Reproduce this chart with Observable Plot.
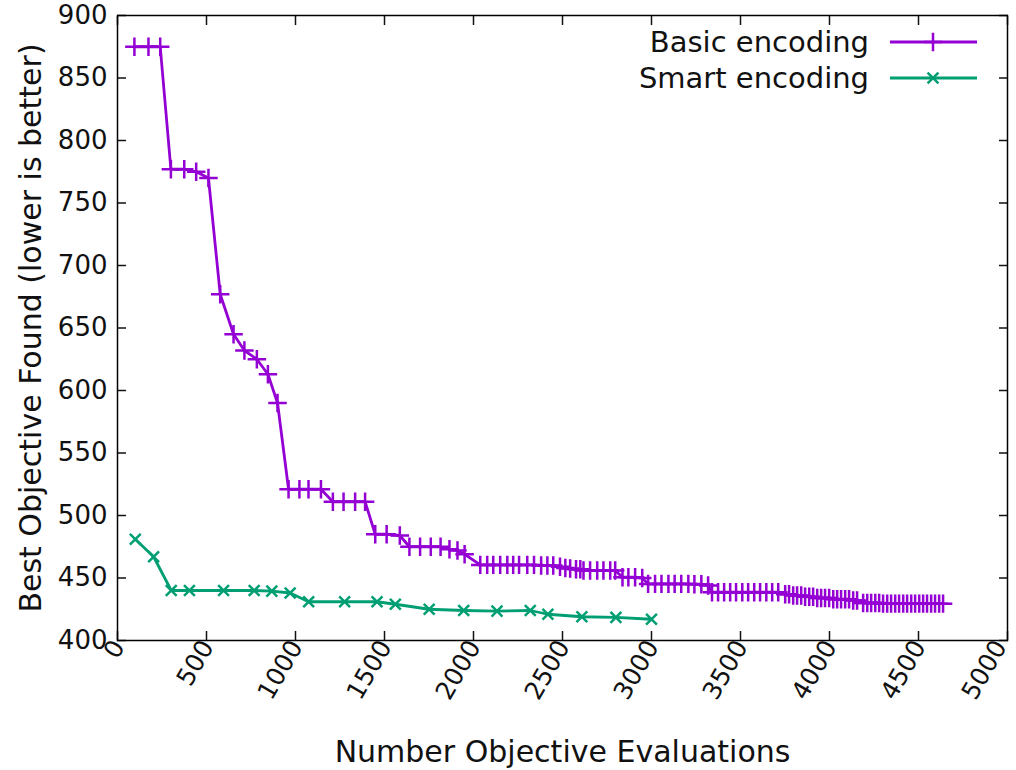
<!DOCTYPE html>
<html>
<head>
<meta charset="utf-8">
<script src="https://cdn.jsdelivr.net/npm/d3@7"></script>
<script src="https://cdn.jsdelivr.net/npm/@observablehq/plot@0.6"></script>
<style>
  html, body { margin: 0; padding: 0; background: #fff; }
  #chart { position: relative; width: 1016px; height: 770px; }
  #legend { position: absolute; left: 0; top: 0; }
</style>
</head>
<body>
<div id="chart"></div>
<script>
// ---- data ----
const seriesNames = ["Basic encoding", "Smart encoding"];
const seriesColors = ["#9400d3", "#009e73"];
const seriesSymbols = ["plus", "times"];

const basicX = [95,174,240,300,375,442,511,577,652,713,783,845,899,961,1022,1073,1143,1210,1270,1335,1391,1448,1512,1586,1640,1700,1760,1815,1865,1910,1950,
  2038,2077,2111,2150,2190,2223,2256,2302,2340,2380,2415,2448,2486,2516,2543,2576,2600,2618,2655,2695,2730,2768,2796,
  2837,2870,2908,2948,2981,3020,3056,3095,3130,3167,3207,3241,3280,3318,
  3340,3374,3408,3442,3475,3510,3543,3577,3610,3645,3678,3712,
  3751,3773,3796,3818,3841,3863,3886,3908,3931,3953,3975,3998,4021,4043,4065,4088,4110,4133,4155,
  4189,4212,4234,4257,4279,4301,4324,4346,4369,4391,4414,4436,4459,4481,4504,4526,4548,4571,4593,4616,4638];
const basicY = [875,875,875,777,777,775,770,677,645,632,625,613,590,521,521,521,521,511,511,511,511,485,485,484,475,475,475,475,473,472,469,
  460.5,460.5,460.5,460.5,460.5,460.5,460.5,460.5,460.5,460,460,460,459,458,457.6,457,457,456,456,456,456,456,456,
  450.6,450.6,450.6,450,445.3,445.3,445.3,445.3,445.3,445.3,445.3,445,445,444,
  438.6,438.6,438.6,438.6,438.6,438.6,438.6,438.6,438.6,438.6,438.6,438.6,
  437,437,436,436,436,435,435,435,434,434,434,434,433,433,433,433,433,432,432,
  430,430,430,430,430,429.5,429.5,429.5,429.5,429.5,429.5,429.5,429.5,429.5,429.5,429.5,429.5,429.5,429.5,429.5,429.5];

const smartX = [100,203,302,404,596,768,867,970,1074,1276,1458,1561,1751,1945,2132,2319,2418,2609,2800,3000];
const smartY = [481,467,440,440,440,440,439.5,438,431,431,431,429,425,424,423.5,424,421,419,418.5,417];

const xTicks = [0,500,1000,1500,2000,2500,3000,3500,4000,4500,5000];
const yTicks = [400,450,500,550,600,650,700,750,800,850,900];
const xLabel = "Number Objective Evaluations";
const yLabel = "Best Objective Found (lower is better)";

// ---- tables ----
const basic = basicX.map((x, i) => ({x, y: basicY[i]}));
const smart = smartX.map((x, i) => ({x, y: smartY[i]}));
const seriesData = [basic, smart];

const W = 1016, H = 770;
const fontFamily = "DejaVu Sans";
const symR = [6, 5];

const marks = [];
seriesData.forEach((data, i) => {
  marks.push(Plot.line(data, {x: "x", y: "y", stroke: seriesColors[i], strokeWidth: 2.8}));
});
seriesData.forEach((data, i) => {
  marks.push(Plot.dot(data, {x: "x", y: "y", stroke: seriesColors[i], symbol: seriesSymbols[i], r: symR[i], strokeWidth: 2.5}));
});

const fmt = d3.format("d");
const blank = () => "";
const xLabelOpts = {anchor: "bottom", tickSize: 0, tickPadding: 2, tickRotate: -60, tickFormat: fmt, fontSize: 25, label: null};

const plot = Plot.plot({
  width: W,
  height: H,
  marginLeft: 117,
  marginRight: 9,
  marginTop: 15,
  marginBottom: 130,
  style: {fontFamily, fontSize: "26px", color: "#111", background: "#fff"},
  x: {domain: [0, 5000]},
  y: {domain: [400, 900]},
  marks: [
    ...marks,
    // inward ticks on all four sides
    Plot.axisX({ticks: xTicks, anchor: "bottom", tickSize: -9, tickFormat: blank, label: null, strokeWidth: 1.5}),
    Plot.axisX({ticks: xTicks, anchor: "top", tickSize: -9, tickFormat: blank, label: null, strokeWidth: 1.5}),
    Plot.axisY({ticks: yTicks, anchor: "left", tickSize: -9, tickPadding: 19, tickFormat: fmt, label: null, strokeWidth: 1.5}),
    Plot.axisY({ticks: yTicks, anchor: "right", tickSize: -9, tickFormat: blank, label: null, strokeWidth: 1.5}),
    // rotated x tick labels (last one nudged left so it stays inside the page)
    Plot.axisX({...xLabelOpts, ticks: xTicks.slice(0, -1), dx: 1}),
    Plot.axisX({...xLabelOpts, ticks: xTicks.slice(-1), dx: -7}),
    Plot.frame({stroke: "#000", strokeWidth: 1.5}),
    Plot.text([xLabel], {text: d => d, frameAnchor: "bottom", textAnchor: "middle", dy: 112, lineAnchor: "middle", fontSize: 30}),
    Plot.text([yLabel], {text: d => d, frameAnchor: "left", textAnchor: "middle", dx: -86, rotate: -90, lineAnchor: "middle", fontSize: 30})
  ]
});

const chart = document.getElementById("chart");
chart.appendChild(plot);

// ---- legend (overlay, top-right inside the frame) ----
const leg = d3.select(chart).append("svg")
  .attr("id", "legend")
  .attr("width", W).attr("height", 110)
  .style("font-family", fontFamily);
const rowsY = [42, 78];
seriesNames.forEach((name, i) => {
  const g = leg.append("g");
  g.append("text").attr("x", 869).attr("y", rowsY[i]).attr("dy", "0.35em")
    .attr("text-anchor", "end").attr("font-size", 29).attr("fill", "#111").text(name);
  g.append("line").attr("x1", 890).attr("x2", 977).attr("y1", rowsY[i]).attr("y2", rowsY[i])
    .attr("stroke", seriesColors[i]).attr("stroke-width", 2.8);
  const sym = i === 0 ? d3.symbolPlus : d3.symbolTimes;
  g.append("path").attr("d", d3.symbol(sym, Math.PI * symR[i] * symR[i])())
    .attr("transform", `translate(933,${rowsY[i]})`)
    .attr("fill", "none").attr("stroke", seriesColors[i]).attr("stroke-width", 2.5);
});
</script>
</body>
</html>
